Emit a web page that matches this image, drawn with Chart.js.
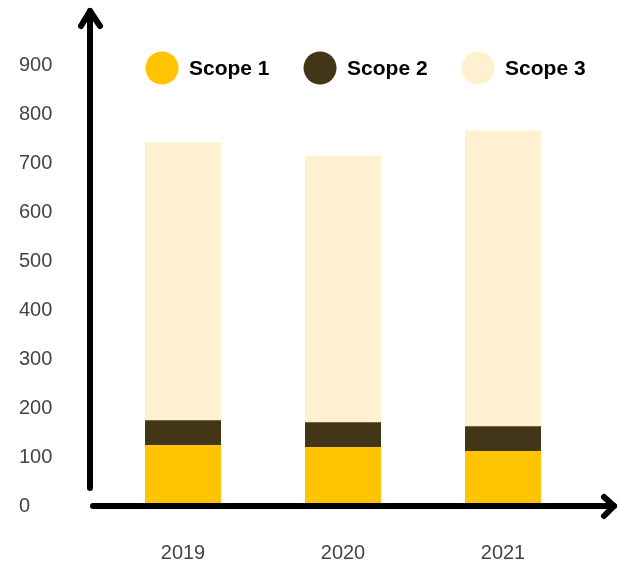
<!DOCTYPE html>
<html>
<head>
<meta charset="utf-8">
<script src="https://cdn.jsdelivr.net/npm/chart.js@4/dist/chart.umd.min.js"></script>
<style>
  html, body { margin: 0; padding: 0; background: #fff; }
  #wrap { width: 618px; height: 563px; }
</style>
</head>
<body>
<div id="wrap"><canvas id="scopeChart"></canvas></div>
<script>
const years = ["2019", "2020", "2021"];
const scope1 = [124, 120, 112];
const scope2 = [51, 51, 51];
const scope3 = [567, 544, 603];
const yTicks = [0, 100, 200, 300, 400, 500, 600, 700, 800, 900];

const FONT = "'Liberation Sans', Arial, Helvetica, sans-serif";

// arrows for both axes, drawn on top of the bars
const arrowAxes = {
    id: "arrowAxes",
    afterDatasetsDraw(chart) {
        const ctx = chart.ctx;
        const area = chart.chartArea;
        const x0 = area.left - 13;
        const y0 = area.bottom;
        ctx.save();
        ctx.strokeStyle = "#000";
        ctx.lineWidth = 6;
        ctx.lineCap = "round";
        ctx.lineJoin = "round";
        // vertical
        ctx.beginPath();
        ctx.moveTo(x0, y0 - 18);
        ctx.lineTo(x0, 11);
        ctx.stroke();
        ctx.beginPath();
        ctx.moveTo(x0 - 9, 26);
        ctx.lineTo(x0, 11);
        ctx.lineTo(x0 + 10, 26);
        ctx.stroke();
        // horizontal
        ctx.beginPath();
        ctx.moveTo(x0 + 3, y0);
        ctx.lineTo(614, y0);
        ctx.stroke();
        ctx.beginPath();
        ctx.moveTo(604, y0 - 9);
        ctx.lineTo(614, y0);
        ctx.lineTo(604, y0 + 10);
        ctx.stroke();
        ctx.restore();
    }
};

// legend with big circles placed inside the plot
const dotLegend = {
    id: "dotLegend",
    afterDraw(chart) {
        const ctx = chart.ctx;
        let x = 145.5;
        const y = 68;
        const r = 16.5;
        ctx.save();
        ctx.font = "bold 21px " + FONT;
        ctx.textBaseline = "middle";
        chart.data.datasets.forEach(ds => {
            ctx.beginPath();
            ctx.arc(x + r, y, r, 0, Math.PI * 2);
            ctx.fillStyle = ds.backgroundColor;
            ctx.fill();
            ctx.fillStyle = "#000";
            ctx.fillText(ds.label, x + 2 * r + 10.5, y + 1);
            x += 2 * r + 10.5 + ctx.measureText(ds.label).width + 34;
        });
        ctx.restore();
    }
};

new Chart(document.getElementById("scopeChart"), {
    type: "bar",
    data: {
        labels: years,
        datasets: [
            { label: "Scope 1", data: scope1, backgroundColor: "#FFC400" },
            { label: "Scope 2", data: scope2, backgroundColor: "#433618" },
            { label: "Scope 3", data: scope3, backgroundColor: "#FFF0CF" }
        ]
    },
    options: {
        responsive: true,
        maintainAspectRatio: false,
        animation: false,
        categoryPercentage: 1,
        barPercentage: 0.475,
        layout: { padding: { top: 65, left: 19, right: 35, bottom: 0 } },
        plugins: {
            legend: { display: false },
            tooltip: { enabled: false }
        },
        scales: {
            x: {
                stacked: true,
                grid: { display: false, drawTicks: false },
                border: { display: false },
                ticks: {
                    padding: 35,
                    color: "#444",
                    font: { family: FONT, size: 20 }
                },
                afterFit(scale) { scale.height = 57; }
            },
            y: {
                stacked: true,
                min: 0,
                max: 900,
                grid: { display: false, drawTicks: false },
                border: { display: false },
                afterBuildTicks(scale) {
                    scale.ticks = yTicks.map(v => ({ value: v }));
                },
                ticks: {
                    crossAlign: "far",
                    color: "#444",
                    font: { family: FONT, size: 20 }
                },
                afterFit(scale) { scale.width = 84; }
            }
        }
    },
    plugins: [arrowAxes, dotLegend]
});
</script>
</body>
</html>
